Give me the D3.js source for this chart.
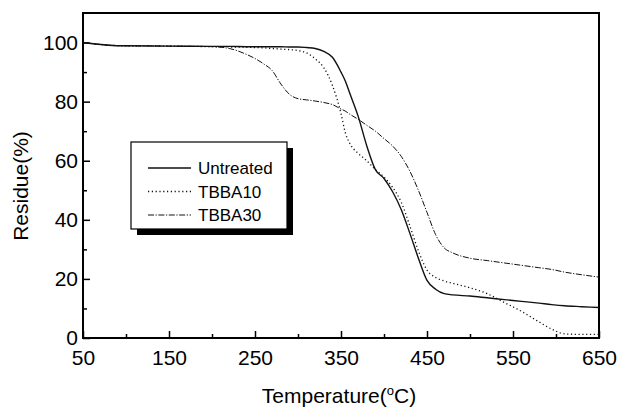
<!DOCTYPE html>
<html>
<head>
<meta charset="utf-8">
<script src="https://cdn.jsdelivr.net/npm/d3@7"></script>
<style>
    body { margin: 0; background: #fff; }
    svg { display: block; font-family: "Liberation Sans", Arial, sans-serif; }
</style>
</head>
<body>
<svg id="chart" width="618" height="408"></svg>
<script>

// Data ///////////////////////////////////////////

const temps = [50, 80, 100, 150, 200, 220, 240, 250, 260, 270, 280, 290, 300, 310, 320, 330, 340, 350, 355,
    360, 370, 380, 390, 400, 410, 420, 430, 440, 450, 460, 470, 480, 500, 520, 540, 560, 580, 595, 610, 630, 650];

const untreated = [100, 99.1, 98.9, 98.8, 98.7, 98.7, 98.6, 98.6, 98.6, 98.6, 98.6, 98.5, 98.5, 98.3, 98, 97, 95, 90, 87,
    83, 75, 65, 57, 54, 49.5, 43.5, 35.5, 27, 19.5, 16.5, 15, 14.6, 14.2, 13.6, 13, 12.4, 11.8, 11.3, 10.9, 10.6, 10.3];

const tbba10 = [100, 99.1, 98.9, 98.8, 98.6, 98.5, 98.4, 98.3, 98.2, 98, 97.8, 97.6, 97.3, 96.5, 94.5, 91.5, 85.5, 76, 69.5,
    66, 62.5, 60, 57, 54.5, 51, 46, 38, 29.5, 23, 20.5, 19.3, 18.5, 17, 15, 12, 9, 5.5, 3, 1.4, 1.2, 1.2];

const tbba30 = [100, 99.1, 98.9, 98.8, 98.6, 98, 96, 94.6, 92.8, 90.5, 86, 82.5, 81, 80.6, 80.2, 79.7, 79, 77.5, 76.8,
    75.8, 74, 72, 70, 67.5, 65, 61.5, 56.5, 50, 42.5, 35, 30.5, 28.8, 27, 26.2, 25.4, 24.6, 23.8, 23.2, 22.3, 21.4, 20.6];

const seriesNames = ["Untreated", "TBBA10", "TBBA30"];
const xTicks = [50, 150, 250, 350, 450, 550, 650];
const xMinor = [100, 200, 300, 400, 500, 600];
const yTicks = [0, 20, 40, 60, 80, 100];
const yMinor = [10, 30, 50, 70, 90];

// Setup //////////////////////////////////////////

const dim = { left: 83, top: 13, right: 599, bottom: 338 };
const svg = d3.select("#chart");

const x = d3.scaleLinear().domain([50, 650]).range([dim.left, dim.right]);
const y = d3.scaleLinear().domain([0, 110]).range([dim.bottom, dim.top]);

const styles = {
    "Untreated": { dash: null, width: 1.4 },
    "TBBA10": { dash: "1.2,2.6", width: 1.3 },
    "TBBA30": { dash: "6,1.6,1.2,1.6", width: 1 }
};

const series = [untreated, tbba10, tbba30].map((vals, i) => ({
    name: seriesNames[i],
    values: temps.map((t, j) => ({ t: t, r: vals[j] }))
}));

// Axes ///////////////////////////////////////////

const fontSize = 21;

const xAxis = svg.append("g")
    .attr("transform", `translate(0,${dim.bottom})`)
    .call(d3.axisBottom(x).tickValues(xTicks).tickSizeInner(-7).tickSizeOuter(0).tickPadding(12));
xAxis.append("g")
    .call(d3.axisBottom(x).tickValues(xMinor).tickSizeInner(-4).tickSizeOuter(0).tickFormat(""));

const yAxis = svg.append("g")
    .attr("transform", `translate(${dim.left},0)`)
    .call(d3.axisLeft(y).tickValues(yTicks).tickSizeInner(-7).tickSizeOuter(0).tickPadding(5));
yAxis.append("g")
    .call(d3.axisLeft(y).tickValues(yMinor).tickSizeInner(-4).tickSizeOuter(0).tickFormat(""));

svg.selectAll(".domain").remove();
svg.selectAll(".tick line").attr("stroke", "#000").attr("stroke-width", 1.5);
svg.selectAll(".tick text")
    .attr("fill", "#000")
    .style("font-size", fontSize + "px")
    .style("font-family", "'Liberation Sans', Arial, sans-serif");

// Frame
svg.append("rect")
    .attr("x", dim.left)
    .attr("y", dim.top)
    .attr("width", dim.right - dim.left)
    .attr("height", dim.bottom - dim.top)
    .attr("fill", "none")
    .attr("stroke", "#000")
    .attr("stroke-width", 2);

// Titles
const xTitle = svg.append("text")
    .attr("x", 339)
    .attr("y", 403)
    .attr("text-anchor", "middle")
    .style("font-size", fontSize + "px");
xTitle.append("tspan").text("Temperature(");
xTitle.append("tspan").attr("dy", -8).style("font-size", "13px").text("o");
xTitle.append("tspan").attr("dy", 8).text("C)");

svg.append("text")
    .attr("transform", "translate(28,186) rotate(-90)")
    .attr("text-anchor", "middle")
    .style("font-size", fontSize + "px")
    .text("Residue(%)");

// Curves /////////////////////////////////////////

const line = d3.line()
    .x(d => x(d.t))
    .y(d => y(d.r))
    .curve(d3.curveMonotoneX);

svg.append("g")
    .selectAll("path")
    .data(series)
    .join("path")
    .attr("d", d => line(d.values))
    .attr("fill", "none")
    .attr("stroke", "#111")
    .attr("stroke-width", d => styles[d.name].width)
    .attr("stroke-dasharray", d => styles[d.name].dash);

// Legend /////////////////////////////////////////

const legend = svg.append("g").attr("transform", "translate(131,142)");

legend.append("rect")
    .attr("x", 6).attr("y", 6)
    .attr("width", 156).attr("height", 87)
    .attr("fill", "#000");
legend.append("rect")
    .attr("width", 156).attr("height", 87)
    .attr("fill", "#fff")
    .attr("stroke", "#000")
    .attr("stroke-width", 1.2);

const rows = legend.selectAll(".row")
    .data(series)
    .join("g")
    .attr("class", "row")
    .attr("transform", (d, i) => `translate(0,${26 + i * 23.5})`);

rows.append("line")
    .attr("x1", 17).attr("x2", 60)
    .attr("stroke", "#111")
    .attr("stroke-width", d => styles[d.name].width)
    .attr("stroke-dasharray", d => styles[d.name].dash);

rows.append("text")
    .attr("x", 67)
    .attr("y", 6)
    .style("font-size", "17px")
    .text(d => d.name);

</script>
</body>
</html>
